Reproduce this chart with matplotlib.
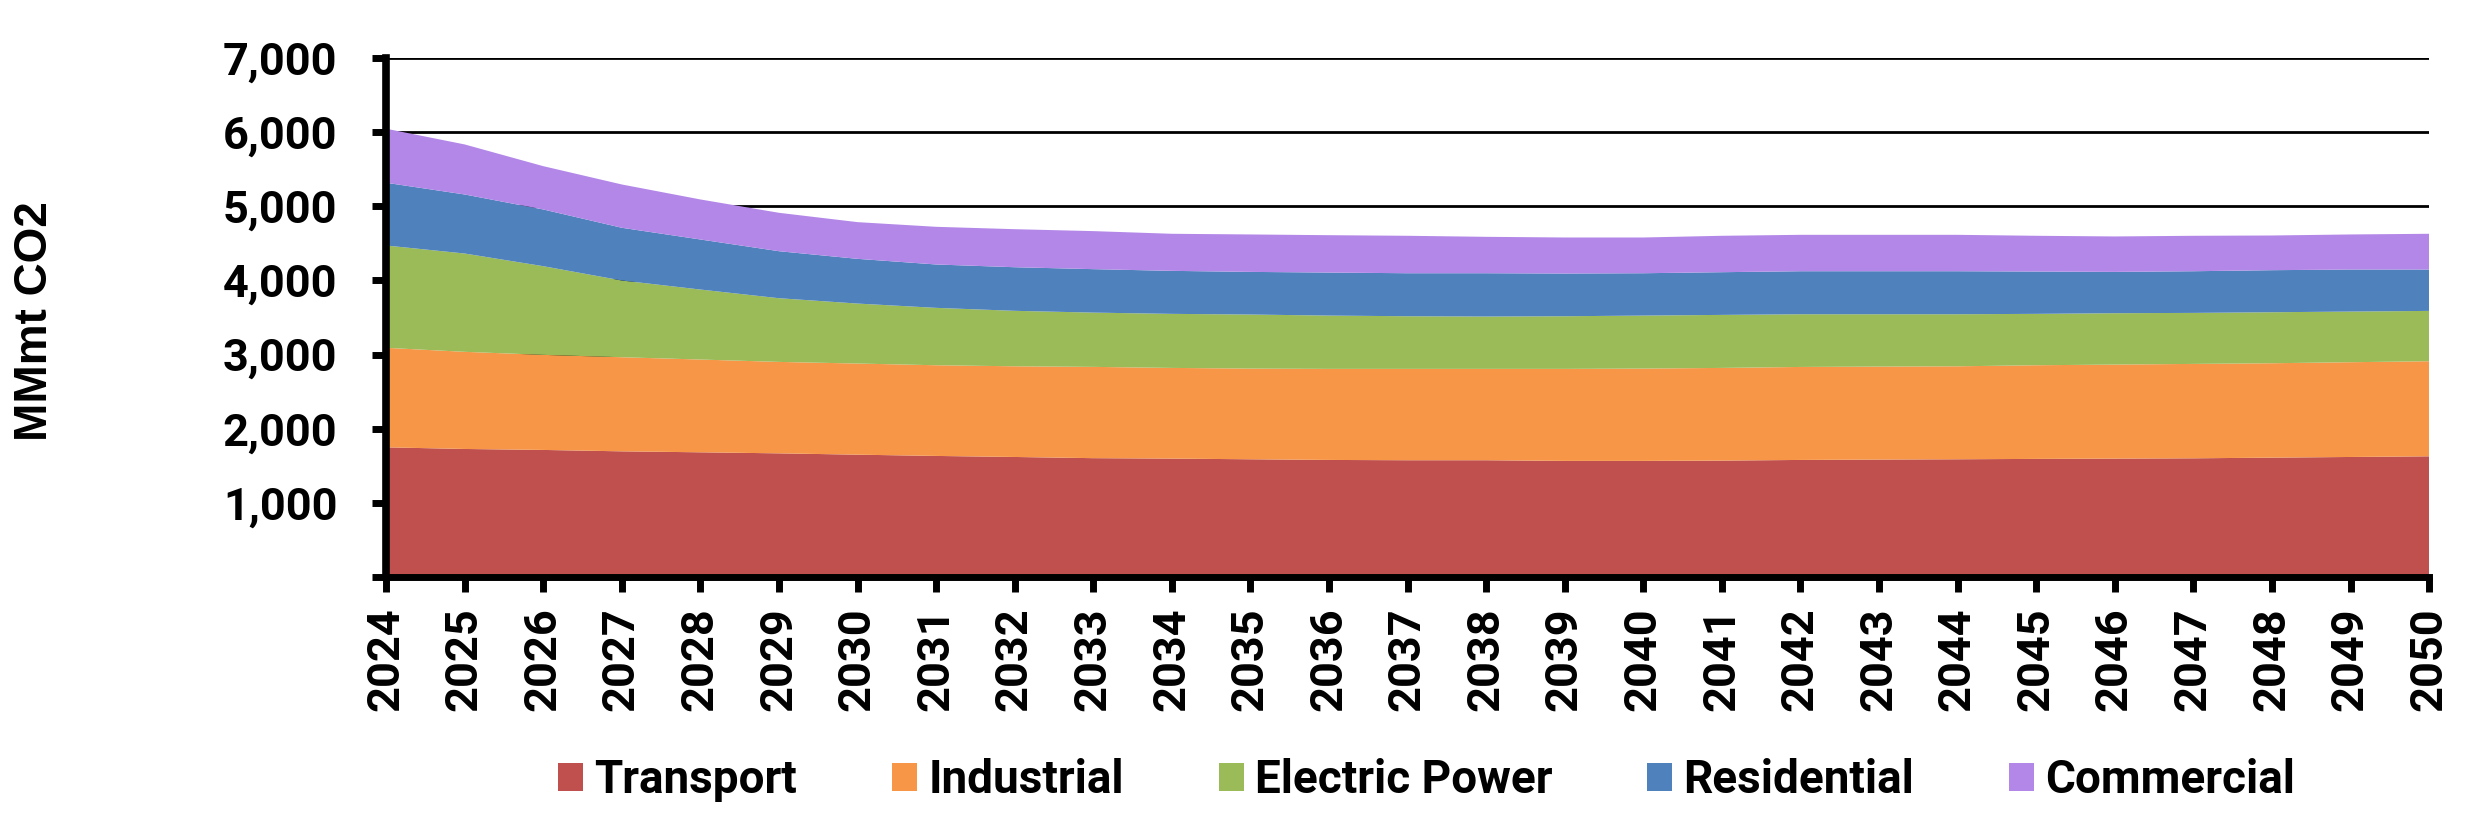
import numpy as np
import matplotlib
matplotlib.use('Agg')
import matplotlib.pyplot as plt
from matplotlib.patches import Patch

# emissions by sector, MMmt CO2
years = list(range(2024, 2051))
transport = [1749, 1727, 1714, 1695, 1682, 1668, 1650, 1633, 1619, 1603, 1597, 1588, 1579, 1575,
             1575, 1566, 1566, 1570, 1579, 1584, 1588, 1593, 1597, 1601, 1610, 1619, 1628]
industrial = [1342, 1310, 1282, 1269, 1251, 1233, 1229, 1223, 1223, 1231, 1223, 1223, 1228, 1232,
              1232, 1241, 1245, 1250, 1254, 1254, 1254, 1263, 1268, 1273, 1273, 1278, 1282]
electric = [1380, 1326, 1196, 1035, 944, 859, 809, 774, 748, 732, 729, 729, 719, 710,
            706, 710, 715, 715, 711, 706, 702, 693, 693, 688, 688, 683, 679]
residential = [846, 796, 765, 711, 675, 634, 603, 585, 588, 586, 580, 575, 580, 580,
               584, 576, 571, 576, 580, 580, 580, 571, 557, 562, 567, 567, 558]
commercial = [729, 675, 584, 584, 540, 518, 495, 508, 513, 513, 500, 505, 504, 505,
              491, 486, 482, 491, 491, 491, 491, 482, 478, 478, 468, 473, 482]

labels = ['Transport', 'Industrial', 'Electric Power', 'Residential', 'Commercial']
colors = ['#C0504D', '#F79646', '#9BBB59', '#4F81BD', '#B387E8']

fig = plt.figure(figsize=(24.83, 8.33), dpi=100)
ax = fig.add_axes([0.1555, 0.3073, 0.8228, 0.6231])

ax.stackplot(years, transport, industrial, electric, residential, commercial,
             colors=colors, linewidth=0, zorder=2)

ax.set_xlim(2024, 2050)
ax.set_ylim(0, 7000)
ax.set_yticks(range(0, 7001, 1000))
ax.set_yticklabels([''] + ['{:,}'.format(v) for v in range(1000, 7001, 1000)])
ax.set_xticks(years)
ax.set_xticklabels([str(y) for y in years], rotation=90)

ax.grid(axis='y', color='black', linewidth=2, zorder=1)
ax.set_axisbelow(True)

for s in ['top', 'right']:
    ax.spines[s].set_visible(False)
ax.spines['left'].set_linewidth(5.5)
ax.spines['bottom'].set_linewidth(5)
ax.tick_params(axis='y', length=10, width=5, direction='out', pad=25)
ax.tick_params(axis='x', length=11, width=5, direction='out', pad=11)

for lab in ax.get_xticklabels() + ax.get_yticklabels():
    lab.set_fontfamily('Roboto')
    lab.set_fontweight('bold')
    lab.set_fontsize(32.5)

fig.text(0.0141, 0.6146, 'MMmt CO2', rotation=90, ha='center', va='center',
         fontsize=33, fontweight='bold', family='Liberation Sans')

handles = [Patch(facecolor=c, edgecolor='none') for c in colors]
fig.legend(handles, labels, loc='center', bbox_to_anchor=(0.5746, 0.0636), ncol=5,
           frameon=False, prop={'family': 'Roboto', 'weight': 'bold', 'size': 33},
           handlelength=0.55, handleheight=0.55, handletextpad=0.24, columnspacing=2.07)

fig.savefig('out.png', dpi=100)
